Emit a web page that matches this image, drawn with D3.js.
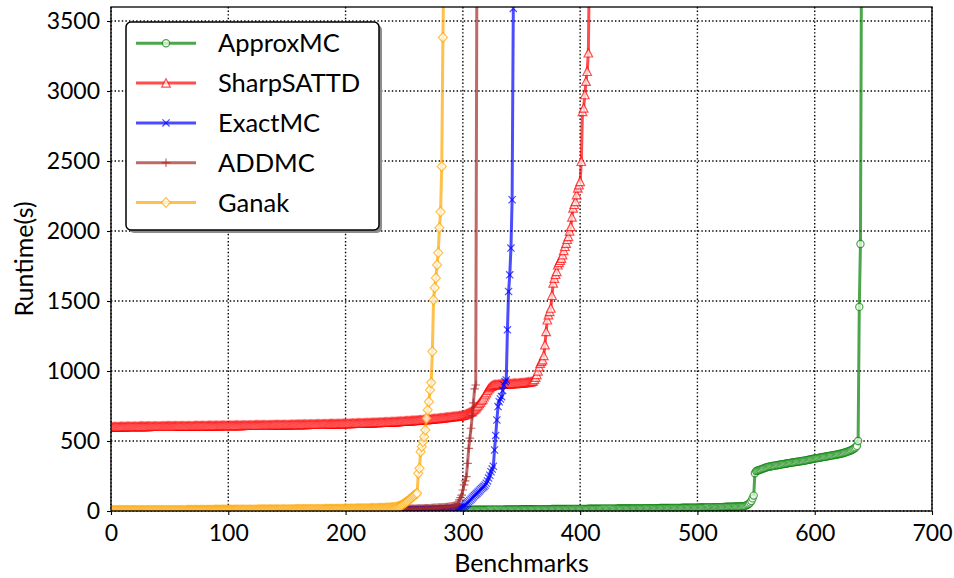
<!DOCTYPE html>
<html lang="en">
<head>
<meta charset="UTF-8" />
<title>Runtime vs Benchmarks</title>
<script src="https://d3js.org/d3.v7.min.js"></script>
<style>
  body, html { margin: 0; padding: 0; background: #fff; }
  svg text { font-family: Lato, "DejaVu Sans", sans-serif; fill: #000; }
  .grid line { stroke: #000; stroke-width: 1.4; stroke-dasharray: 1.4,2.2; }
  .axis path { display: none; }
  .axis line { stroke: #000; stroke-width: 1.1; }
</style>
</head>
<body>
<svg id="chart" width="954" height="578"></svg>
<script>
// sorted runtimes (s) per solver, index = number of benchmarks solved
// the last value of some series is past the 3600 s limit and gets clipped
const approxMC = [
  1,1,1,1,1,1,1,1,1,1,1,1,1,1,1,1,1,1,1,1,
  1,1,1,1,1,1,1,1,1,1,1,1,1,1,1,2,2,2,2,2,
  2,2,2,2,2,2,2,2,2,2,2,2,2,2,2,2,2,2,2,2,
  2,2,2,2,2,2,2,2,2,2,2,2,3,3,3,3,3,3,3,3,
  3,3,3,3,3,3,3,3,3,3,3,3,3,3,3,3,3,3,3,3,
  3,3,3,3,3,3,3,3,3,4,4,4,4,4,4,4,4,4,4,4,
  4,4,4,4,4,4,4,4,4,4,4,4,4,4,4,4,4,4,4,4,
  4,4,4,4,4,4,5,5,5,5,5,5,5,5,5,5,5,5,5,5,
  5,5,5,5,5,5,5,5,5,5,5,5,5,6,6,6,6,6,6,6,
  6,6,6,6,6,6,6,6,6,6,6,6,6,6,6,6,6,6,6,6,
  6,6,6,6,6,6,6,6,6,6,7,7,7,7,7,7,7,7,7,7,
  7,7,7,7,7,7,7,7,7,7,7,7,7,7,7,7,7,7,7,7,
  7,7,7,7,7,7,7,7,7,7,7,7,7,7,7,7,7,7,7,7,
  7,7,7,7,7,7,7,7,8,8,8,8,8,8,8,8,8,8,8,8,
  8,8,8,8,8,8,8,8,8,8,8,8,8,8,8,8,8,8,8,8,
  8,8,8,8,8,8,8,8,8,9,9,9,9,9,9,9,9,9,9,9,
  9,9,9,10,10,10,10,10,10,10,10,10,10,10,10,10,11,11,11,11,
  11,11,11,11,11,11,11,11,11,11,12,12,12,12,12,12,12,12,12,12,
  12,12,12,13,13,13,13,13,13,13,13,13,13,13,13,13,14,14,14,14,
  14,14,14,14,14,14,14,14,14,14,14,15,15,15,15,15,15,15,15,15,
  15,15,15,15,15,15,15,16,16,16,16,16,16,16,16,16,16,16,16,17,
  17,17,17,17,17,17,17,17,17,17,17,17,18,18,18,18,18,18,18,18,
  18,18,18,18,18,19,19,19,19,19,19,19,19,19,19,19,20,20,20,20,
  20,20,20,20,20,20,20,20,21,21,21,21,21,21,21,21,21,21,22,22,
  22,22,22,22,22,22,22,23,23,23,23,23,23,23,23,24,24,24,24,24,
  24,24,25,25,25,25,25,25,26,26,26,26,26,27,27,27,27,28,28,28,
  28,28,29,29,29,30,30,30,30,31,31,31,32,32,32,33,33,33,34,34,
  35,38,42,46,52,60,72,90,110,270,285,
  288,291,294,297,300,303,306,309,312,315,
  317,318,320,321,323,324,326,327,329,330,
  332,333,335,336,338,339,341,342,344,345,
  346,348,349,350,352,353,354,356,357,358,
  360,361,363,365,366,368,370,371,373,375,
  376,378,379,381,382,384,385,387,388,390,
  391,393,394,396,397,399,400,402,403,405,
  407,409,411,413,416,418,421,424,427,430,
  434,438,443,448,455,465,500,1458,1907,4200
];

const sharpSATTD = [
  600,600,600,601,601,601,601,601,602,602,602,602,602,602,603,603,603,603,603,603,
  603,603,603,603,604,604,604,604,604,604,604,604,604,605,605,605,605,605,605,605,
  605,605,605,605,605,606,606,606,606,606,606,606,606,606,606,606,606,607,607,607,
  607,607,607,607,607,607,607,607,607,607,607,608,608,608,608,608,608,608,608,608,
  608,608,608,609,609,609,609,609,609,609,609,609,609,610,610,610,610,610,610,610,
  610,610,610,610,611,611,611,611,611,611,611,611,611,612,612,612,612,612,612,612,
  612,612,613,613,613,613,613,613,613,613,614,614,614,614,614,614,614,614,615,615,
  615,615,615,615,615,615,615,616,616,616,616,616,616,616,617,617,617,617,617,617,
  617,618,618,618,618,618,618,618,619,619,619,619,619,619,620,620,620,620,620,620,
  621,621,621,621,621,621,622,622,622,622,622,622,623,623,623,623,623,624,624,624,
  624,624,625,625,625,625,626,626,626,626,627,627,627,627,628,628,628,628,629,629,
  629,630,630,630,631,631,631,632,632,632,633,633,633,634,634,634,635,635,636,636,
  636,637,637,638,638,639,639,640,640,641,641,642,642,643,643,644,645,645,646,646,
  647,648,648,649,650,650,651,652,652,653,654,655,655,656,657,658,659,660,660,661,
  662,663,664,665,666,667,668,669,670,671,672,673,674,675,676,677,678,679,680,681,
  683,686,689,692,696,700,705,710,716,722,729,737,746,756,767,779,790,800,815,830,
  845,860,872,882,890,895,899,901,902,903,904,904,905,905,906,906,907,907,908,908,
  909,909,910,910,911,911,912,912,913,914,914,915,916,917,918,919,920,921,923,926,
  930,940,955,975,1000,1030,1055,1070,1080,1110,1187,1282,1365,1401,1425,1449,1540,1628,1663,1690,
  1711,1758,1775,1790,1805,1830,1860,1890,1913,1940,1961,2000,2032,2100,2164,2190,2211,2259,2307,2330,
  2354,2497,2854,2878,2974,3069,3140,3272,4000
];

const exactMC = [
  1,1,1,1,1,1,1,1,1,1,1,1,1,1,1,1,1,1,1,1,
  1,1,1,1,1,1,1,1,1,1,1,1,2,2,2,2,2,2,2,2,
  2,2,2,2,2,2,2,2,2,2,2,2,2,2,2,2,2,2,2,2,
  2,2,2,2,2,2,2,2,2,2,3,3,3,3,3,3,3,3,3,3,
  3,3,3,3,3,3,3,3,3,3,3,3,3,3,3,3,3,3,3,3,
  3,3,3,3,3,3,3,3,4,4,4,4,4,4,4,4,4,4,4,4,
  4,4,4,4,4,4,4,4,4,4,4,4,4,4,4,4,4,4,4,4,
  4,4,4,4,4,4,5,5,5,5,5,5,5,5,5,5,5,5,5,5,
  5,5,5,5,5,5,5,5,5,5,5,5,5,5,6,6,6,6,6,6,
  6,6,6,6,6,6,6,6,6,6,6,6,6,6,6,6,6,6,6,6,
  6,6,6,6,6,6,6,6,7,7,7,7,7,7,7,7,7,7,7,7,
  7,7,7,7,7,7,7,7,7,7,8,8,8,8,8,8,8,8,8,8,
  8,8,8,8,8,8,9,9,9,9,9,9,9,9,9,10,10,10,10,10,
  10,10,10,11,11,11,11,11,12,12,12,12,13,13,13,13,14,14,14,15,
  15,15,16,16,17,17,18,18,19,19,20,20,21,21,22,22,23,
  24,26,28,31,35,42,50,58,66,75,84,93,102,110,118,126,135,143,152,160,
  168,176,186,198,215,235,255,280,300,320,436,540,650,746,780,800,817,860,900,924,
  936,1294,1568,1687,1878,2223,3590
];

const addMC = [
  1,1,1,1,1,1,1,1,1,1,1,1,1,1,1,1,1,1,1,1,
  1,1,1,1,1,1,1,1,1,1,2,2,2,2,2,2,2,2,2,2,
  2,2,2,2,2,2,2,2,2,2,2,2,2,2,2,2,2,2,2,2,
  2,2,2,2,2,2,2,2,3,3,3,3,3,3,3,3,3,3,3,3,
  3,3,3,3,3,3,3,3,3,3,3,3,3,3,3,3,3,3,3,3,
  3,3,3,3,3,3,4,4,4,4,4,4,4,4,4,4,4,4,4,4,
  4,4,4,4,4,4,4,4,4,4,4,4,4,4,4,4,4,4,4,4,
  4,4,4,5,5,5,5,5,5,5,5,5,5,5,5,5,5,5,5,5,
  5,5,5,5,5,5,5,5,6,6,6,6,6,6,6,6,6,6,6,6,
  6,6,6,6,6,6,6,6,6,6,6,6,7,7,7,7,7,7,7,7,
  7,7,7,7,7,7,7,7,8,8,8,8,8,8,8,8,8,8,9,9,
  9,9,9,9,9,9,9,10,10,10,10,10,10,10,11,11,11,11,11,11,
  12,12,12,12,12,13,13,13,13,13,14,14,14,14,15,15,15,15,16,16,
  16,17,17,17,18,18,18,19,19,19,20,20,20,21,21,22,22,23,23,24,
  24,25,25,26,27,27,28,29,30,31,32,34,36,38,41,45,
  55,79,95,114,150,186,215,245,340,448,520,591,680,772,872,900,4000
];

const ganak = [
  3,3,3,3,3,3,3,3,3,3,3,3,3,3,3,3,3,3,3,3,
  3,3,3,3,3,3,3,3,3,3,4,4,4,4,4,4,4,4,4,4,
  4,4,4,4,4,4,4,4,4,4,4,4,4,4,4,4,4,4,4,4,
  4,4,4,4,4,5,5,5,5,5,5,5,5,5,5,5,5,5,5,5,
  5,5,5,5,5,5,5,5,6,6,6,6,6,6,6,6,6,6,6,6,
  6,6,6,6,6,6,6,7,7,7,7,7,7,7,7,7,7,7,7,7,
  7,7,7,7,7,7,8,8,8,8,8,8,8,8,8,8,8,8,8,8,
  8,8,8,8,9,9,9,9,9,9,9,9,9,9,9,9,9,10,10,10,
  10,10,10,10,10,10,10,10,10,10,11,11,11,11,11,11,11,11,11,11,
  11,11,12,12,12,12,12,12,12,12,12,12,13,13,13,13,13,13,13,13,
  13,13,14,14,14,14,14,14,14,15,15,15,15,15,15,16,16,16,16,16,
  16,17,17,17,17,18,18,18,18,19,19,19,20,20,20,21,21,22,22,23,
  23,24,25,27,29,31,34,38,43,48,54,60,66,72,79,86,93,100,108,114,120,
  126,269,305,424,460,495,531,579,662,722,781,865,917,1139,1508,1594,1665,1758,1844,2023,
  2137,2461,3383,4000
];

const seriesNames = ["ApproxMC", "SharpSATTD", "ExactMC", "ADDMC", "Ganak"];
const seriesColors = ["#008000", "#ff0000", "#0000ff", "#a52a2a", "#ffa500"];
const seriesMarkers = ["circle", "triangle", "x", "plus", "diamond"];
const xTicks = [0, 100, 200, 300, 400, 500, 600, 700];
const yTicks = [0, 500, 1000, 1500, 2000, 2500, 3000, 3500];

const series = [approxMC, sharpSATTD, exactMC, addMC, ganak].map((values, i) => ({
    name: seriesNames[i],
    values: values,
    color: seriesColors[i],
    marker: seriesMarkers[i]
}));

const svg = d3.select("#chart");
const plotLeft = 111, plotRight = 932, plotTop = 7, plotBottom = 511;

const x = d3.scaleLinear().domain([0, 700]).range([plotLeft, plotRight]);
const y = d3.scaleLinear().domain([0, 3600]).range([plotBottom, plotTop]);

function markerPath(type) {
    switch (type) {
        case "circle": return "M3.6,0A3.6,3.6,0,1,1,-3.6,0A3.6,3.6,0,1,1,3.6,0Z";
        case "triangle": return "M0,-4.3L4.3,4.1L-4.3,4.1Z";
        case "x": return "M-3.6,-3.6L3.6,3.6M-3.6,3.6L3.6,-3.6";
        case "plus": return "M-4.3,0L4.3,0M0,-4.3L0,4.3";
        case "diamond": return "M0,-4.9L4.5,0L0,4.9L-4.5,0Z";
    }
}
const openMarker = t => t === "x" || t === "plus";

// grid
const grid = svg.append("g").attr("class", "grid");
grid.selectAll(".gx").data(xTicks).join("line")
    .attr("x1", d => x(d)).attr("x2", d => x(d))
    .attr("y1", plotTop).attr("y2", plotBottom);
grid.selectAll(".gy").data(yTicks).join("line")
    .attr("x1", plotLeft).attr("x2", plotRight)
    .attr("y1", d => y(d)).attr("y2", d => y(d));

svg.append("clipPath").attr("id", "plot-clip")
    .append("rect")
    .attr("x", plotLeft).attr("y", plotTop)
    .attr("width", plotRight - plotLeft).attr("height", plotBottom - plotTop);

const line = d3.line()
    .x((d, i) => x(i))
    .y(d => y(d));

const plot = svg.append("g").attr("clip-path", "url(#plot-clip)");

series.forEach(s => {
    const g = plot.append("g");
    g.append("path")
        .attr("d", line(s.values))
        .attr("fill", "none")
        .attr("stroke", s.color)
        .attr("stroke-opacity", 0.7)
        .attr("stroke-width", 3)
        .attr("stroke-linejoin", "round");

    g.selectAll(".m").data(s.values).join("path")
        .attr("transform", (d, i) => `translate(${x(i)},${y(d)})`)
        .attr("d", markerPath(s.marker))
        .attr("fill", openMarker(s.marker) ? "none" : "#fff")
        .attr("fill-opacity", 0.7)
        .attr("stroke", s.color)
        .attr("stroke-opacity", 0.7)
        .attr("stroke-width", 1.2);
});

// axes
const xAxis = svg.append("g").attr("class", "axis")
    .attr("transform", `translate(0,${plotBottom})`)
    .call(d3.axisBottom(x).tickValues(xTicks).tickFormat(d3.format("d")).tickSize(4).tickPadding(6));
xAxis.selectAll("text").attr("font-size", 23).attr("dy", "0.85em");

const yAxis = svg.append("g").attr("class", "axis")
    .attr("transform", `translate(${plotLeft},0)`)
    .call(d3.axisLeft(y).tickValues(yTicks).tickFormat(d3.format("d")).tickSize(4).tickPadding(7));
yAxis.selectAll("text").attr("font-size", 23);

svg.append("rect")
    .attr("x", plotLeft).attr("y", plotTop)
    .attr("width", plotRight - plotLeft).attr("height", plotBottom - plotTop)
    .attr("fill", "none")
    .attr("stroke", "#000")
    .attr("stroke-width", 1.3);

svg.append("text")
    .attr("x", (plotLeft + plotRight) / 2).attr("y", 572)
    .attr("text-anchor", "middle")
    .attr("font-size", 25)
    .text("Benchmarks");

svg.append("text")
    .attr("transform", `translate(33,${(plotTop + plotBottom) / 2}) rotate(-90)`)
    .attr("text-anchor", "middle")
    .attr("font-size", 25)
    .text("Runtime(s)");

// legend
const legend = svg.append("g");
legend.append("rect")
    .attr("x", 129).attr("y", 25)
    .attr("width", 253).attr("height", 208)
    .attr("rx", 5)
    .attr("fill", "#8c8c8c");
legend.append("rect")
    .attr("x", 126).attr("y", 22)
    .attr("width", 253).attr("height", 208)
    .attr("rx", 5)
    .attr("fill", "#fff")
    .attr("stroke", "#000")
    .attr("stroke-width", 1.5);

const item = legend.selectAll(".item").data(series).join("g")
    .attr("transform", (d, i) => `translate(0,${43.3 + i * 39.8})`);
item.append("line")
    .attr("x1", 136).attr("x2", 196)
    .attr("stroke", d => d.color)
    .attr("stroke-opacity", 0.7)
    .attr("stroke-width", 3);
item.append("path")
    .attr("transform", "translate(166,0)")
    .attr("d", d => markerPath(d.marker))
    .attr("fill", d => openMarker(d.marker) ? "none" : "#fff")
    .attr("fill-opacity", 0.7)
    .attr("stroke", d => d.color)
    .attr("stroke-opacity", 0.7)
    .attr("stroke-width", 1.2);
item.append("text")
    .attr("x", 218).attr("dy", "0.36em")
    .attr("font-size", 25.5)
    .text(d => d.name);
</script>
</body>
</html>
